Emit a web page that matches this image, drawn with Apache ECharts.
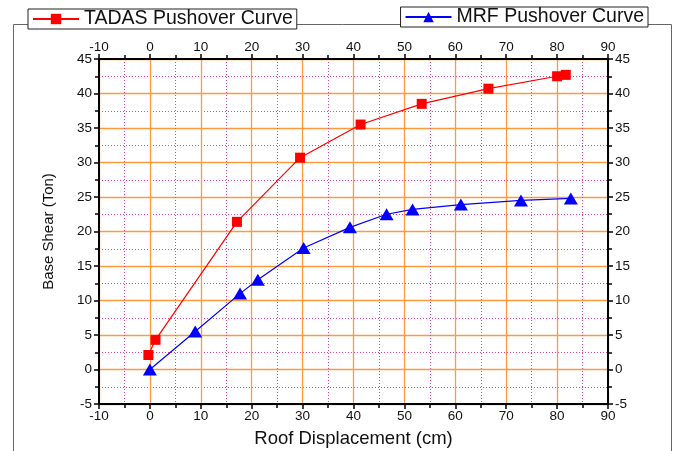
<!DOCTYPE html>
<html>
<head>
<meta charset="utf-8">
<script src="https://cdn.jsdelivr.net/npm/echarts@6/dist/echarts.min.js"></script>
<style>
  html, body { margin: 0; padding: 0; background: #fff; }
  #chart { width: 677px; height: 451px; }
</style>
</head>
<body>
<div id="chart"></div>
<script>
// roof displacement (cm) / base shear (ton)
var tadasX = [-0.3, 1.1, 17.1, 29.5, 41.4, 53.4, 66.5, 80.0, 81.7];
var tadasY = [2.1, 4.3, 21.4, 30.7, 35.5, 38.5, 40.7, 42.5, 42.7];
var mrfX = [0, 8.9, 17.7, 21.2, 30.2, 39.3, 46.5, 51.6, 61.1, 72.9, 82.7];
var mrfY = [0, 5.5, 11.0, 13.0, 17.6, 20.6, 22.5, 23.2, 23.9, 24.5, 24.8];

var xTicks = { min: -10, max: 90, interval: 10 };
var yTicks = { min: -5, max: 45, interval: 5 };

function pairs(xs, ys) {
    return xs.map(function (x, i) { return [x, ys[i]] })
}

var font = 'Liberation Sans, Arial, sans-serif'
var orange = '#ff9a3c'
var pink = '#ee3fa0'

function xAxis(pos, grid) {
    return {
        type: 'value',
        position: pos,
        min: xTicks.min, max: xTicks.max, interval: xTicks.interval,
        name: pos === 'bottom' ? 'Roof Displacement (cm)' : '',
        nameLocation: 'middle',
        nameGap: 25,
        nameTextStyle: { fontFamily: font, fontSize: 18.5, color: '#111' },
        axisLine: { show: true, onZero: false, lineStyle: { color: '#000', width: 2 } },
        axisTick: { show: true, length: 5, lineStyle: { color: '#000', width: 1.5 } },
        minorTick: { show: true, splitNumber: 2, length: 4, lineStyle: { color: '#000', width: 1.5 } },
        axisLabel: { fontFamily: font, fontSize: 13.5, color: '#111', margin: 5 },
        splitLine: { show: grid, lineStyle: { color: orange, width: 1.3 } },
        minorSplitLine: { show: grid, lineStyle: { color: pink, width: 1, type: [1, 2] } }
    }
}

function yAxis(pos, grid) {
    return {
        type: 'value',
        position: pos,
        min: yTicks.min, max: yTicks.max, interval: yTicks.interval,
        name: pos === 'left' ? 'Base Shear (Ton)' : '',
        nameLocation: 'middle',
        nameGap: 43,
        nameTextStyle: { fontFamily: font, fontSize: 15, color: '#111' },
        axisLine: { show: true, onZero: false, lineStyle: { color: '#000', width: 2 } },
        axisTick: { show: true, length: 5, lineStyle: { color: '#000', width: 1.5 } },
        minorTick: { show: true, splitNumber: 2, length: 4, lineStyle: { color: '#000', width: 1.5 } },
        axisLabel: { fontFamily: font, fontSize: 13.5, color: '#111', margin: 7 },
        splitLine: { show: grid, lineStyle: { color: orange, width: 1.3 } },
        minorSplitLine: { show: grid, lineStyle: { color: pink, width: 1, type: [1, 2] } }
    }
}

var legendBase = {
    orient: 'horizontal',
    backgroundColor: '#fff',
    borderColor: '#222',
    borderWidth: 1,
    borderRadius: 0,
    padding: [0, 4, 0, 4],
    itemWidth: 46,
    itemHeight: 13,
    itemGap: 8,
    z: 10,
    textStyle: { fontFamily: font, fontSize: 19.5, color: '#111' }
}

var chart = echarts.init(document.getElementById('chart'), null, { renderer: 'canvas' })
chart.setOption({
    animation: false,
    backgroundColor: '#fff',
    graphic: [{
        type: 'rect',
        z: 0,
        shape: { x: 13.5, y: 24.5, width: 658, height: 440 },
        style: { fill: 'none', stroke: '#666', lineWidth: 1 }
    }],
    legend: [
        Object.assign({}, legendBase, { data: ['TADAS Pushover Curve'], left: 28, top: 9 }),
        Object.assign({}, legendBase, { data: ['MRF Pushover Curve'], right: 29, top: 7 })
    ],
    grid: { left: 99, right: 69, top: 59, bottom: 47, containLabel: false, outerBoundsMode: 'none' },
    xAxis: [xAxis('bottom', true), xAxis('top', false)],
    yAxis: [yAxis('left', true), yAxis('right', false)],
    series: [
        {
            name: 'TADAS Pushover Curve',
            type: 'line',
            data: pairs(tadasX, tadasY),
            symbol: 'rect',
            symbolSize: 10,
            lineStyle: { color: '#ff0000', width: 1.2 },
            itemStyle: { color: '#ff0000' },
            z: 5
        },
        {
            name: 'MRF Pushover Curve',
            type: 'line',
            data: pairs(mrfX, mrfY),
            symbol: 'triangle',
            symbolSize: [14, 12],
            lineStyle: { color: '#0000ff', width: 1.2 },
            itemStyle: { color: '#0000ff' },
            z: 5
        }
    ]
})
</script>
</body>
</html>
